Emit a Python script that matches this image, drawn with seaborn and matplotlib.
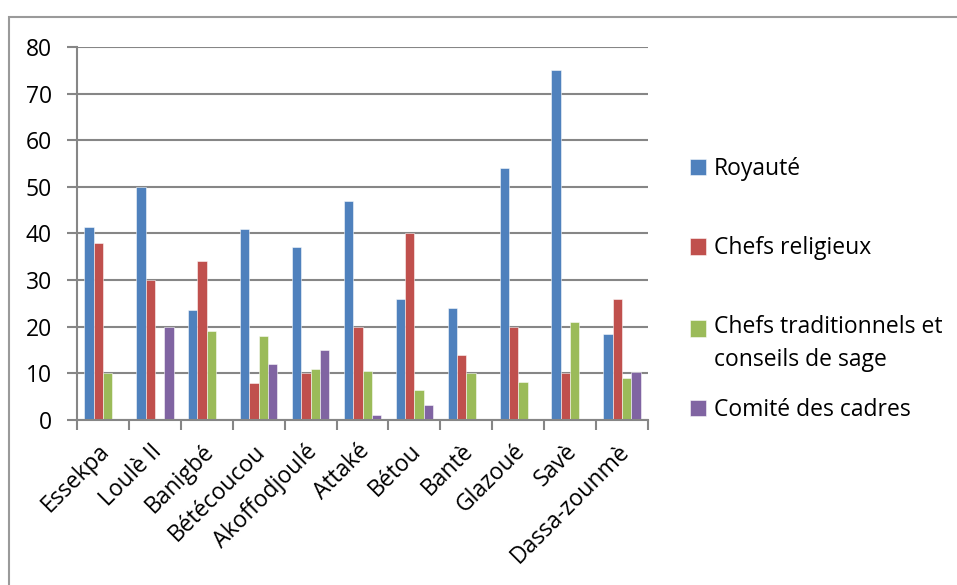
import numpy as np
import pandas as pd
import matplotlib
matplotlib.use("Agg")
import matplotlib.pyplot as plt
from matplotlib.patches import Rectangle
from matplotlib.transforms import ScaledTranslation
import seaborn as sns

categories = ["Essekpa", "Loulè II", "Banigbé", "Bétécoucou", "Akoffodjoulé",
              "Attaké", "Bétou", "Bantè", "Glazoué", "Savè", "Dassa-zounmè"]
royaute = [41.5, 50, 23.5, 41, 37, 47, 26, 24, 54, 75, 18.5]
chefs_religieux = [38, 30, 34, 8, 10, 20, 40, 14, 20, 10, 26]
chefs_traditionnels = [10, np.nan, 19, 18, 11, 10.5, 6.5, 10, 8.2, 21, 9]
comite_cadres = [np.nan, 20, np.nan, 12, 15, 1, 3.2, np.nan, np.nan, np.nan, 10.4]

series_names = ["Royauté", "Chefs religieux",
                "Chefs traditionnels et\nconseils de sage", "Comité des cadres"]
series_values = [royaute, chefs_religieux, chefs_traditionnels, comite_cadres]
colors = ["#4F81BD", "#C0504D", "#9BBB59", "#8064A2"]

rows = []
for name, vals in zip(series_names, series_values):
    for cat, v in zip(categories, vals):
        rows.append({"Lieu": cat, "Valeur": v, "Série": name})
df = pd.DataFrame(rows)

sns.set_theme(style="white")
plt.rcParams["font.family"] = ["Open Sans", "DejaVu Sans"]
plt.rcParams["text.color"] = "black"
FS = 16.5

fig = plt.figure(figsize=(9.57, 5.85), dpi=100)
ax = fig.add_axes([77 / 957, 1 - 420 / 585, (648 - 77) / 957, (420 - 47) / 585])

sns.barplot(data=df, x="Lieu", y="Valeur", hue="Série", order=categories,
            hue_order=series_names, palette=colors, width=0.72, errorbar=None,
            saturation=1, edgecolor=(1, 1, 1, 0.6), linewidth=0.6, ax=ax)

grid_col = "#868686"
ax.set_ylim(0, 80)
ax.set_xlim(-0.5, len(categories) - 0.5)
ax.set_yticks(range(0, 81, 10))
ax.yaxis.grid(True, color=grid_col, lw=1.5)
ax.xaxis.grid(False)
ax.set_axisbelow(True)
for s in ["top", "right"]:
    ax.spines[s].set_visible(False)
for s in ["left", "bottom"]:
    ax.spines[s].set_color(grid_col)
    ax.spines[s].set_linewidth(1.5)
ax.set_xlabel("")
ax.set_ylabel("")

ax.tick_params(axis="y", length=7, width=1.5, color=grid_col, direction="out",
               pad=11, labelsize=FS, labelcolor="black", left=True)
ax.set_xticks(np.arange(-0.5, len(categories), 1), minor=True)
ax.tick_params(axis="x", which="major", length=0, pad=14, labelsize=FS,
               labelcolor="black")
ax.tick_params(axis="x", which="minor", length=7, width=1.5, color=grid_col,
               direction="out", bottom=True)
ax.set_xticks(range(len(categories)))
ax.set_xticklabels(categories, rotation=45, ha="right", va="top",
                   rotation_mode="anchor")
shift = ScaledTranslation(-0.05, 0, fig.dpi_scale_trans)
for lab in ax.get_xticklabels():
    lab.set_transform(lab.get_transform() + shift)

if ax.get_legend() is not None:
    ax.get_legend().remove()

# legend entries (one legend per entry to match the uneven Excel spacing)
legend_y = [169, 248.5, 329, 410]  # centres (single line) / first-line centre
for i, (cont, name) in enumerate(zip(ax.containers, series_names)):
    multiline = "\n" in name
    if multiline:
        loc = "upper left"
        anchor_y = legend_y[i] - 14
    else:
        loc = "center left"
        anchor_y = legend_y[i]
    leg = fig.legend([cont], [name], loc=loc,
                     bbox_to_anchor=(690 / 957, 1 - anchor_y / 585),
                     bbox_transform=fig.transFigure, frameon=False,
                     handlelength=0.7, handleheight=0.7, handletextpad=0.35,
                     fontsize=FS, borderpad=0, borderaxespad=0)
    if multiline:
        leg.get_texts()[0].set_linespacing(1.5)
        h = leg.legend_handles[0]
        h.set_y(h.get_y() + 11.5)

fig.patches.append(Rectangle((9 / 957, -0.1), 2, 1 - 17 / 585 + 0.1,
                             transform=fig.transFigure, fill=False,
                             edgecolor="#9a9a9a", lw=1.5))

fig.savefig("out.png", dpi=100)
